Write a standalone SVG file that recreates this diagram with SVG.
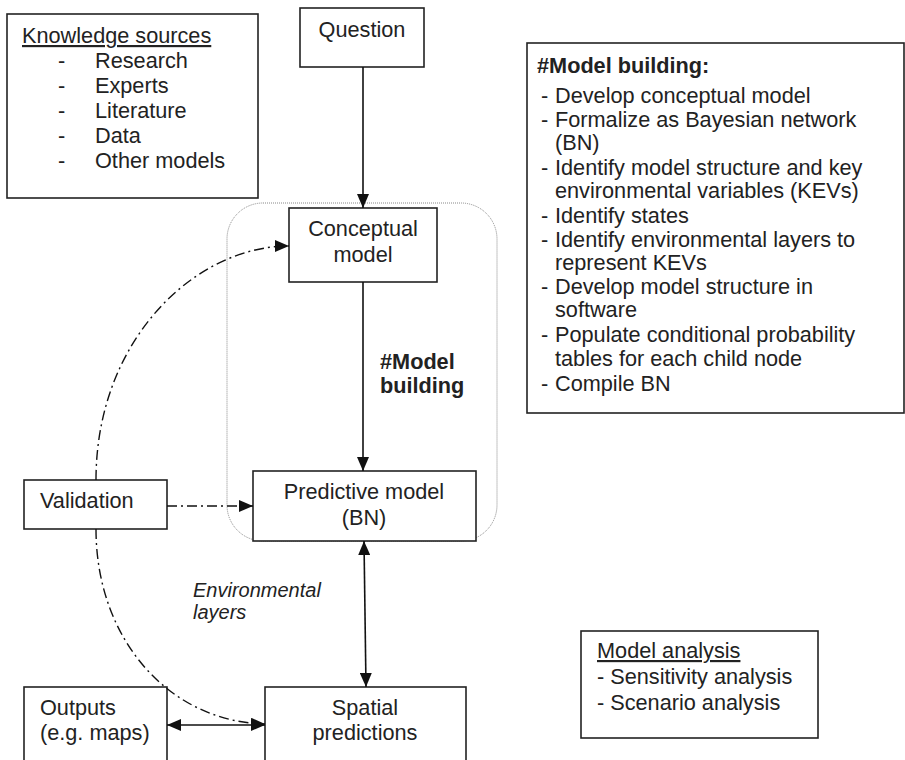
<svg xmlns="http://www.w3.org/2000/svg" width="905" height="760" viewBox="0 0 905 760">
  <style>
    .box { fill: #fff; stroke: #222; stroke-width: 1.6; }
    .t { font-family: "Liberation Sans", Arial, sans-serif; font-size: 21.7px; fill: #222; }
    .b { font-weight: bold; }
    .i { font-style: italic; font-size: 20px; }
    .u { text-decoration: underline; }
    .mid { text-anchor: middle; }
    .edge { fill: none; stroke: #111; stroke-width: 1.6; }
    .dd { fill: none; stroke: #111; stroke-width: 1.4; stroke-dasharray: 10 4 2 4; }
    .group { fill: none; stroke: #888; stroke-width: 1; stroke-dasharray: 1 1; }
  </style>
  <defs>
    <marker id="arr" markerUnits="userSpaceOnUse" markerWidth="14" markerHeight="12" viewBox="0 0 14 12" refX="14" refY="6" orient="auto-start-reverse">
      <path d="M0,0 L14,6 L0,12 Z" fill="#111"/>
    </marker>
  </defs>

  <rect width="905" height="760" fill="#fff"/>

  <!-- model building group outline -->
  <rect class="group" x="227" y="203" width="270" height="338" rx="36" ry="36"/>

  <g id="knowledge">
    <rect class="box" x="7" y="14" width="251" height="184"/>
    <text class="t u" x="22" y="43">Knowledge sources</text>
    <text class="t" x="58" y="68">-</text><text class="t" x="95" y="68">Research</text>
    <text class="t" x="58" y="93">-</text><text class="t" x="95" y="93">Experts</text>
    <text class="t" x="58" y="118">-</text><text class="t" x="95" y="118">Literature</text>
    <text class="t" x="58" y="143">-</text><text class="t" x="95" y="143">Data</text>
    <text class="t" x="58" y="168">-</text><text class="t" x="95" y="168">Other models</text>
  </g>

  <g id="question">
    <rect class="box" x="300" y="8" width="124" height="59"/>
    <text class="t mid" x="362" y="37">Question</text>
  </g>

  <g id="conceptual">
    <rect class="box" x="289" y="208" width="148" height="74"/>
    <text class="t mid" x="363" y="236">Conceptual</text>
    <text class="t mid" x="363" y="262">model</text>
  </g>

  <g id="predictive">
    <rect class="box" x="253" y="471" width="223" height="70"/>
    <text class="t mid" x="364" y="499">Predictive model</text>
    <text class="t mid" x="364" y="525">(BN)</text>
  </g>

  <g id="validation">
    <rect class="box" x="24" y="480" width="143" height="49"/>
    <text class="t" x="40" y="508">Validation</text>
  </g>

  <g id="outputs">
    <rect class="box" x="24" y="687" width="143" height="90"/>
    <text class="t" x="40" y="715">Outputs</text>
    <text class="t" x="40" y="740">(e.g. maps)</text>
  </g>

  <g id="spatial">
    <rect class="box" x="265" y="687" width="201" height="90"/>
    <text class="t mid" x="365" y="715">Spatial</text>
    <text class="t mid" x="365" y="740">predictions</text>
  </g>

  <g id="model-building">
    <rect class="box" x="527" y="43" width="377" height="370"/>
    <text class="t b" x="537" y="73">#Model building:</text>
    <text class="t" x="541" y="103">-</text><text class="t" x="555" y="103">Develop conceptual model</text>
    <text class="t" x="541" y="127">-</text><text class="t" x="555" y="127">Formalize as Bayesian network</text>
    <text class="t" x="555" y="150">(BN)</text>
    <text class="t" x="541" y="175">-</text><text class="t" x="555" y="175">Identify model structure and key</text>
    <text class="t" x="555" y="198">environmental variables (KEVs)</text>
    <text class="t" x="541" y="223">-</text><text class="t" x="555" y="223">Identify states</text>
    <text class="t" x="541" y="247">-</text><text class="t" x="555" y="247">Identify environmental layers to</text>
    <text class="t" x="555" y="270">represent KEVs</text>
    <text class="t" x="541" y="294">-</text><text class="t" x="555" y="294">Develop model structure in</text>
    <text class="t" x="555" y="317">software</text>
    <text class="t" x="541" y="342">-</text><text class="t" x="555" y="342">Populate conditional probability</text>
    <text class="t" x="555" y="366">tables for each child node</text>
    <text class="t" x="541" y="391">-</text><text class="t" x="555" y="391">Compile BN</text>
  </g>

  <g id="model-analysis">
    <rect class="box" x="581" y="631" width="237" height="107"/>
    <text class="t u" x="597" y="658">Model analysis</text>
    <text class="t" x="597" y="684">- Sensitivity analysis</text>
    <text class="t" x="597" y="710">- Scenario analysis</text>
  </g>

  <g id="connectors">
    <line class="edge" x1="363" y1="67" x2="363" y2="208" marker-end="url(#arr)"/>
    <line class="edge" x1="363" y1="282" x2="363" y2="471" marker-end="url(#arr)"/>
    <line class="edge" x1="364" y1="541" x2="366" y2="687" marker-start="url(#arr)" marker-end="url(#arr)"/>
    <line class="edge" x1="167" y1="725" x2="265" y2="725" marker-start="url(#arr)" marker-end="url(#arr)"/>
    <line class="dd" x1="167" y1="506" x2="253" y2="506" marker-end="url(#arr)"/>
    <path class="dd" d="M96,480 C96,340 195,246 289,246" marker-end="url(#arr)"/>
    <path class="dd" d="M96,529 C96,640 170,722 265,724" marker-end="url(#arr)"/>
    <text class="t b" x="380" y="369">#Model</text>
    <text class="t b" x="380" y="393">building</text>
    <text class="t i" x="193" y="597">Environmental</text>
    <text class="t i" x="193" y="619">layers</text>
  </g>
</svg>
